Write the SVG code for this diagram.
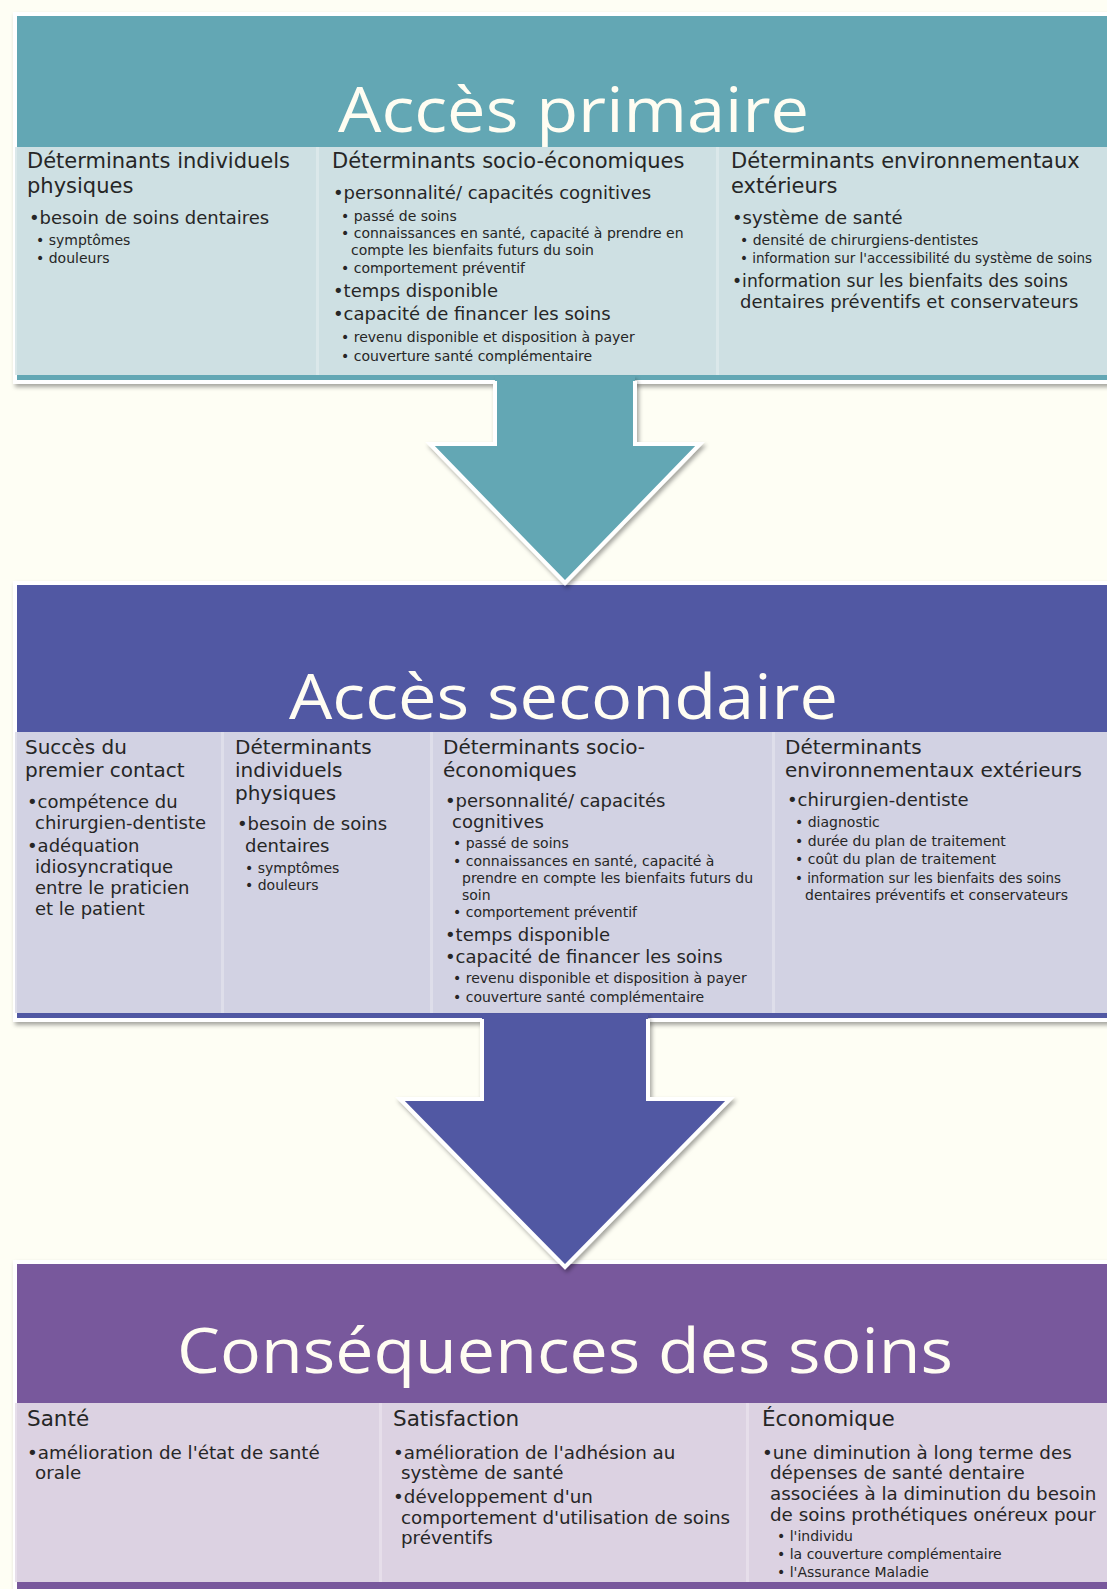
<svg xmlns="http://www.w3.org/2000/svg" width="1107" height="1589" viewBox="0 0 1107 1589">
<defs>
<filter id="sh" x="-5%" y="-5%" width="115%" height="115%">
<feDropShadow dx="2" dy="3" stdDeviation="2" flood-color="#000" flood-opacity="0.35"/>
</filter>
<style>
.frame{stroke:#fff;stroke-width:4}
.out{fill:none;stroke:#fff;stroke-width:4;stroke-linejoin:miter}
.t{font-family:"Open Sans","Liberation Sans",sans-serif;font-size:63px;fill:#FFFDF2}
text{font-family:"DejaVu Sans","Liberation Sans",sans-serif;fill:#262626}
.h1{font-size:21px}
.h{font-size:20px}
.b1{font-size:18px}
.b2{font-size:14px}
.c1{font-size:18.3px}
.ch{font-size:21.5px}
</style>
</defs>
<rect width="1107" height="1589" fill="#FEFEF4"/>

<g id="acces-primaire">
<rect class="frame" x="15" y="14" width="1100" height="368" fill="#64A7B4" filter="url(#sh)"/>
<rect x="15" y="147" width="1092" height="228" fill="#DBE8EA"/>
<rect x="17" y="147" width="299" height="228" fill="#CEE0E3"/>
<rect x="319" y="147" width="397" height="228" fill="#CEE0E3"/>
<rect x="719" y="147" width="388" height="228" fill="#CEE0E3"/>
<text class="t" x="338" y="132" textLength="471" lengthAdjust="spacingAndGlyphs">Accès primaire</text>
<text class="h1" x="27" y="168">Déterminants individuels</text>
<text class="h1" x="27" y="193">physiques</text>
<text class="b1" x="29" y="224">•besoin de soins dentaires</text>
<text class="b2" x="36" y="245">• symptômes</text>
<text class="b2" x="36" y="263">• douleurs</text>
<text class="h1" x="332" y="168">Déterminants socio-économiques</text>
<text class="b1" x="333" y="199">•personnalité/ capacités cognitives</text>
<text class="b2" x="341" y="221">• passé de soins</text>
<text class="b2" x="341" y="238">• connaissances en santé, capacité à prendre en</text>
<text class="b2" x="351" y="255">compte les bienfaits futurs du soin</text>
<text class="b2" x="341" y="273">• comportement préventif</text>
<text class="b1" x="333" y="297">•temps disponible</text>
<text class="b1" x="333" y="320">•capacité de financer les soins</text>
<text class="b2" x="341" y="342">• revenu disponible et disposition à payer</text>
<text class="b2" x="341" y="361">• couverture santé complémentaire</text>
<text class="h1" x="731" y="168">Déterminants environnementaux</text>
<text class="h1" x="731" y="193">extérieurs</text>
<text class="b1" x="732" y="224">•système de santé</text>
<text class="b2" x="740" y="245">• densité de chirurgiens-dentistes</text>
<text class="b2" x="740" y="263" textLength="352" lengthAdjust="spacingAndGlyphs">• information sur l'accessibilité du système de soins</text>
<text class="b1" x="732" y="287" textLength="336" lengthAdjust="spacingAndGlyphs">•information sur les bienfaits des soins</text>
<text class="b1" x="740" y="308">dentaires préventifs et conservateurs</text>
</g>

<g id="acces-secondaire">
<rect class="frame" x="15" y="583" width="1100" height="437" fill="#5159A3" filter="url(#sh)"/>
<rect x="15" y="732" width="1092" height="281" fill="#DEDEEA"/>
<rect x="17" y="732" width="204" height="281" fill="#D2D2E3"/>
<rect x="224" y="732" width="206" height="281" fill="#D2D2E3"/>
<rect x="433" y="732" width="339" height="281" fill="#D2D2E3"/>
<rect x="775" y="732" width="332" height="281" fill="#D2D2E3"/>
<text class="t" x="289" y="719" textLength="549" lengthAdjust="spacingAndGlyphs">Accès secondaire</text>
<text class="h" x="25" y="754">Succès du</text>
<text class="h" x="25" y="777">premier contact</text>
<text class="b1" x="27" y="808">•compétence du</text>
<text class="b1" x="35" y="829">chirurgien-dentiste</text>
<text class="b1" x="27" y="852">•adéquation</text>
<text class="b1" x="35" y="873">idiosyncratique</text>
<text class="b1" x="35" y="894">entre le praticien</text>
<text class="b1" x="35" y="915">et le patient</text>
<text class="h" x="235" y="754">Déterminants</text>
<text class="h" x="235" y="777">individuels</text>
<text class="h" x="235" y="800">physiques</text>
<text class="b1" x="237" y="830">•besoin de soins</text>
<text class="b1" x="245" y="852">dentaires</text>
<text class="b2" x="245" y="873">• symptômes</text>
<text class="b2" x="245" y="890">• douleurs</text>
<text class="h" x="443" y="754">Déterminants socio-</text>
<text class="h" x="443" y="777">économiques</text>
<text class="b1" x="445" y="807">•personnalité/ capacités</text>
<text class="b1" x="452" y="828">cognitives</text>
<text class="b2" x="453" y="848">• passé de soins</text>
<text class="b2" x="453" y="866">• connaissances en santé, capacité à</text>
<text class="b2" x="462" y="883">prendre en compte les bienfaits futurs du</text>
<text class="b2" x="462" y="900">soin</text>
<text class="b2" x="453" y="917">• comportement préventif</text>
<text class="b1" x="445" y="941">•temps disponible</text>
<text class="b1" x="445" y="963">•capacité de financer les soins</text>
<text class="b2" x="453" y="983">• revenu disponible et disposition à payer</text>
<text class="b2" x="453" y="1002">• couverture santé complémentaire</text>
<text class="h" x="785" y="754">Déterminants</text>
<text class="h" x="785" y="777">environnementaux extérieurs</text>
<text class="b1" x="787" y="806">•chirurgien-dentiste</text>
<text class="b2" x="795" y="827">• diagnostic</text>
<text class="b2" x="795" y="846">• durée du plan de traitement</text>
<text class="b2" x="795" y="864">• coût du plan de traitement</text>
<text class="b2" x="795" y="883" textLength="266" lengthAdjust="spacingAndGlyphs">• information sur les bienfaits des soins</text>
<text class="b2" x="805" y="900">dentaires préventifs et conservateurs</text>
</g>

<g id="consequences">
<rect class="frame" x="15" y="1262" width="1100" height="340" fill="#78599C" filter="url(#sh)"/>
<rect x="15" y="1403" width="1092" height="179" fill="#E6DEEA"/>
<rect x="17" y="1403" width="362" height="179" fill="#DCD2E2"/>
<rect x="382" y="1403" width="364" height="179" fill="#DCD2E2"/>
<rect x="749" y="1403" width="358" height="179" fill="#DCD2E2"/>
<text class="t" x="177" y="1373" textLength="776" lengthAdjust="spacingAndGlyphs">Conséquences des soins</text>
<text class="ch" x="27" y="1426">Santé</text>
<text class="c1" x="27" y="1459">•amélioration de l'état de santé</text>
<text class="c1" x="35" y="1479">orale</text>
<text class="ch" x="393" y="1426">Satisfaction</text>
<text class="c1" x="393" y="1459">•amélioration de l'adhésion au</text>
<text class="c1" x="401" y="1479">système de santé</text>
<text class="c1" x="393" y="1503">•développement d'un</text>
<text class="c1" x="401" y="1524">comportement d'utilisation de soins</text>
<text class="c1" x="401" y="1544">préventifs</text>
<text class="ch" x="762" y="1426">Économique</text>
<text class="c1" x="762" y="1459">•une diminution à long terme des</text>
<text class="c1" x="770" y="1479">dépenses de santé dentaire</text>
<text class="c1" x="770" y="1500">associées à la diminution du besoin</text>
<text class="c1" x="770" y="1521">de soins prothétiques onéreux  pour</text>
<text class="b2" x="777" y="1541">• l'individu</text>
<text class="b2" x="777" y="1559">• la couverture complémentaire</text>
<text class="b2" x="777" y="1577">• l'Assurance Maladie</text>
</g>

<g id="connectors">
<g filter="url(#sh)">
<polygon points="495,376 495,444 430,444 565,583 700,444 635,444 635,376" fill="#64A7B4"/>
<polyline class="out" points="495,381 495,444 430,444 565,583 700,444 635,444 635,381"/>
</g>
<g filter="url(#sh)">
<polygon points="482,1014 482,1099 400,1099 565,1267 730,1099 648,1099 648,1014" fill="#5159A3"/>
<polyline class="out" points="482,1019 482,1099 400,1099 565,1267 730,1099 648,1099 648,1019"/>
</g>
</g>
</svg>
